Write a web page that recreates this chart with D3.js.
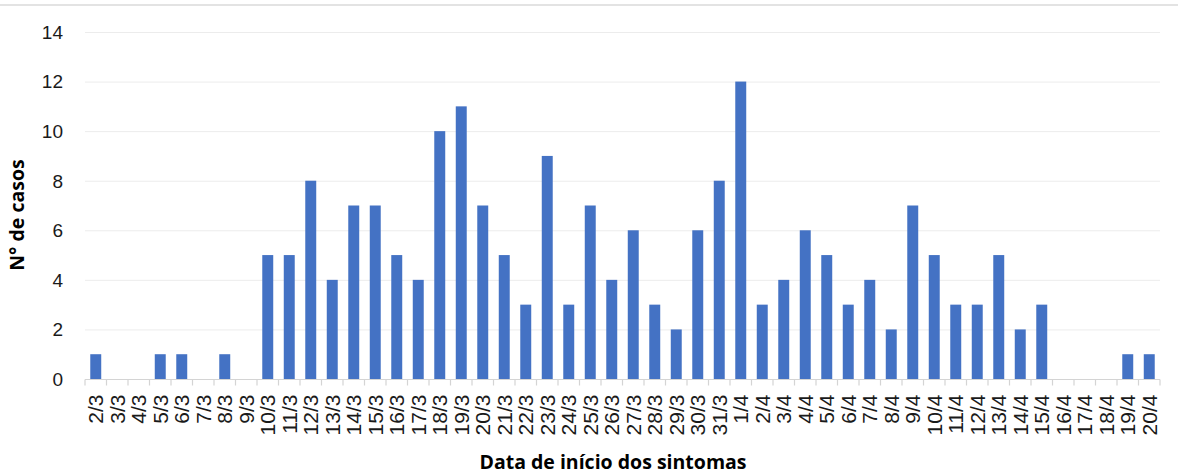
<!DOCTYPE html>
<html><head><meta charset="utf-8">
<script src="https://cdn.jsdelivr.net/npm/d3@7/dist/d3.min.js"></script>
<style>body{margin:0;background:#fff;} svg{display:block;}</style>
</head><body>
<svg id="chart" width="1178" height="474"></svg>
<script>
const categories = ["2/3","3/3","4/3","5/3","6/3","7/3","8/3","9/3","10/3","11/3","12/3","13/3","14/3","15/3","16/3","17/3","18/3","19/3","20/3","21/3","22/3","23/3","24/3","25/3","26/3","27/3","28/3","29/3","30/3","31/3","1/4","2/4","3/4","4/4","5/4","6/4","7/4","8/4","9/4","10/4","11/4","12/4","13/4","14/4","15/4","16/4","17/4","18/4","19/4","20/4"];
const casos = [1,0,0,1,1,0,1,0,5,5,8,4,7,7,5,4,10,11,7,5,3,9,3,7,4,6,3,2,6,8,12,3,4,6,5,3,4,2,7,5,3,3,5,2,3,0,0,0,1,1];
const yTicks = [0,2,4,6,8,10,12,14];
const yLabel = "N° de casos";
const xLabel = "Data de início dos sintomas";

const svg = d3.select("#chart");
const m = {left:85, right:18, top:32, bottom:95};
const W = 1178, H = 474;
const x = d3.scaleBand().domain(categories).range([m.left, W - m.right]).paddingInner(0.49).paddingOuter(0.245);
const y = d3.scaleLinear().domain([0,14]).range([H - m.bottom, m.top]);

// top border
svg.append("line").attr("x1",0).attr("x2",W).attr("y1",5).attr("y2",5)
  .attr("stroke","#e3e3e3").attr("stroke-width",2);

// gridlines
svg.append("g").selectAll("line").data(yTicks.filter(d=>d>0)).join("line")
  .attr("x1", m.left).attr("x2", W - m.right)
  .attr("y1", d=>y(d)+0.5).attr("y2", d=>y(d)+0.5)
  .attr("stroke","#ececec").attr("stroke-width",1);

// y tick labels
svg.append("g").selectAll("text").data(yTicks).join("text")
  .attr("x", 63).attr("y", d=>y(d)).attr("dy","0.36em")
  .attr("text-anchor","end")
  .attr("font-family","'Liberation Sans', Arial, sans-serif").attr("font-size",19)
  .attr("fill","#1a1a1a").text(d=>d);

// bars
svg.append("g").selectAll("rect").data(casos).join("rect")
  .attr("x",(d,i)=>x(categories[i]))
  .attr("width", x.bandwidth())
  .attr("y", d=>y(d)).attr("height", d=>y(0)-y(d))
  .attr("fill","#4472C4");

// x axis line & ticks
const step = x.step();
const x0 = m.left, axY = y(0)+0.5;
svg.append("line").attr("x1",x0).attr("x2",W-m.right).attr("y1",axY).attr("y2",axY)
  .attr("stroke","#d4d4d4").attr("stroke-width",1.2);
const bounds = d3.range(categories.length+1).map(i => x0 + i*step);
svg.append("g").selectAll("line").data(bounds).join("line")
  .attr("x1",d=>d).attr("x2",d=>d).attr("y1",axY).attr("y2",axY+6)
  .attr("stroke","#d4d4d4").attr("stroke-width",1.2);

// x tick labels
svg.append("g").selectAll("text").data(categories).join("text")
  .attr("transform", d => `translate(${x(d)+x.bandwidth()/2},${axY+15}) rotate(-90)`)
  .attr("text-anchor","end").attr("dy","0.36em")
  .attr("font-family","'Liberation Sans', Arial, sans-serif").attr("font-size",21)
  .attr("fill","#1a1a1a").text(d=>d);

// axis titles
svg.append("text").attr("x", 613).attr("y", 469).attr("text-anchor","middle")
  .attr("font-family","'Open Sans', Lato, sans-serif").attr("font-weight","bold").attr("font-size",19.5)
  .attr("fill","#000").text(xLabel);
svg.append("text").attr("transform","translate(24,215) rotate(-90)").attr("text-anchor","middle")
  .attr("font-family","'Open Sans', Lato, sans-serif").attr("font-weight","bold").attr("font-size",19.5)
  .attr("fill","#000").text(yLabel);
</script>
</body></html>
